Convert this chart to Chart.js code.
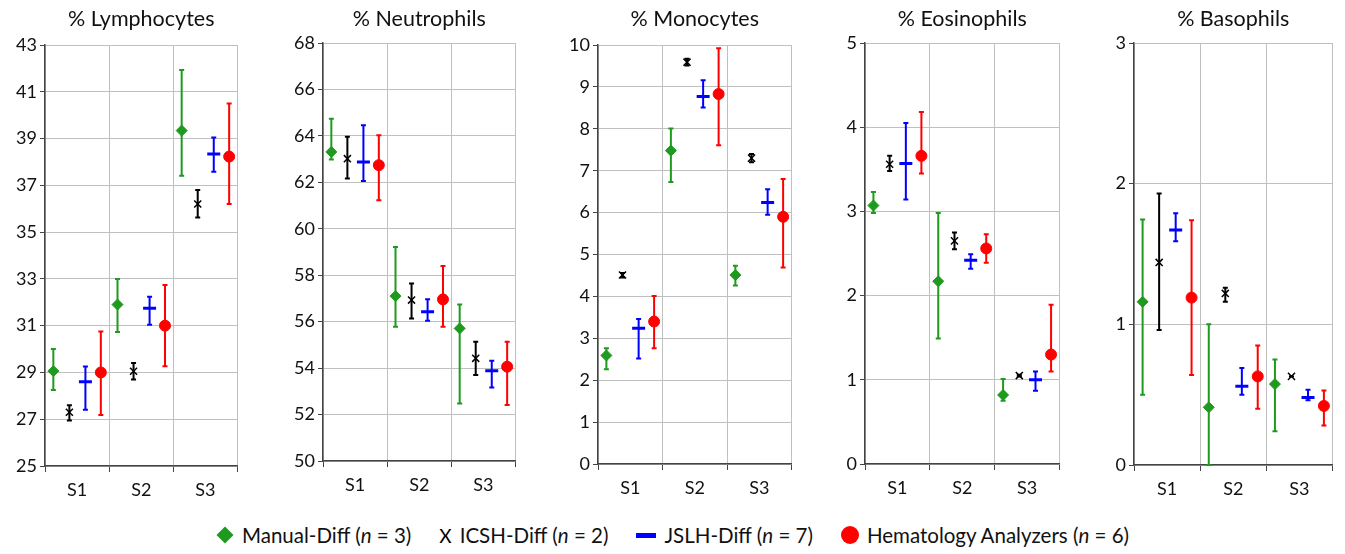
<!DOCTYPE html>
<html>
<head>
<meta charset="utf-8">
<script src="https://cdn.jsdelivr.net/npm/chart.js@4.4.1/dist/chart.umd.min.js"></script>
<style>
  body { margin: 0; background: #fff; width: 1345px; height: 554px; overflow: hidden; position: relative; font-family: Lato, "Open Sans", sans-serif; }
  canvas { position: absolute; top: 0; }
  #legend { position: absolute; top: 523px; left: 0; width: 1345px; display: flex; justify-content: center; align-items: center; font-size: 20.5px; color: #111; }
  .item { display: flex; align-items: center; margin: 0 14px; }
  .mk { display: inline-block; margin-right: 8px; }
  .diamond { width: 12px; height: 12px; background: #1e9a1e; transform: rotate(45deg); margin-left: 3px; margin-right: 11px; }
  .cross { font-size: 19px; color: #000; }
  .dash { width: 20px; height: 5px; background: #0000ff; }
  .dot { width: 18px; height: 18px; border-radius: 50%; background: #ff0000; }
</style>
</head>
<body>
<div id="legend"></div>
<script>
const categories = ['S1', 'S2', 'S3'];
const seriesNames = ['Manual-Diff', 'ICSH-Diff', 'JSLH-Diff', 'Hematology Analyzers'];
const seriesN = [3, 2, 7, 6];
const panelTitles = ['% Lymphocytes', '% Neutrophils', '% Monocytes', '% Eosinophils', '% Basophils'];

// values per series (Manual, ICSH, JSLH, Analyzers), each over S1..S3
const lymphMean = [[29.06, 31.9, 39.34], [27.3, 29.05, 36.2], [28.6, 31.74, 38.34], [29.0, 31.0, 38.23]];
const lymphLow  = [[28.25, 30.73, 37.41], [26.95, 28.7, 35.63], [27.4, 31.04, 37.58], [27.18, 29.26, 36.2]];
const lymphHigh = [[30.0, 33.0, 41.93], [27.6, 29.4, 36.8], [29.25, 32.24, 39.05], [30.75, 32.74, 40.5]];

const neutMean = [[63.31, 57.1, 55.71], [63.02, 56.93, 54.42], [62.88, 56.43, 53.89], [62.74, 56.96, 54.06]];
const neutLow  = [[62.98, 55.78, 52.48], [62.16, 56.14, 53.7], [62.06, 56.04, 53.17], [61.23, 55.78, 52.41]];
const neutHigh = [[64.74, 59.22, 56.74], [63.96, 57.64, 55.13], [64.46, 56.96, 54.32], [64.03, 58.4, 55.13]];

const monoMean = [[2.59, 7.48, 4.51], [4.51, 9.59, 7.3], [3.24, 8.77, 6.24], [3.4, 8.83, 5.9]];
const monoLow  = [[2.26, 6.73, 4.26], [4.45, 9.51, 7.2], [2.52, 8.51, 5.95], [2.76, 7.61, 4.69]];
const monoHigh = [[2.76, 8.01, 4.73], [4.56, 9.67, 7.4], [3.46, 9.16, 6.56], [4.01, 9.92, 6.8]];

const eosMean = [[3.07, 2.17, 0.82], [3.56, 2.65, 1.05], [3.57, 2.42, 1.0], [3.66, 2.56, 1.3]];
const eosLow  = [[2.98, 1.49, 0.75], [3.48, 2.55, 1.04], [3.14, 2.32, 0.87], [3.45, 2.39, 1.1]];
const eosHigh = [[3.23, 2.98, 1.01], [3.66, 2.75, 1.06], [4.05, 2.49, 1.1], [4.18, 2.73, 1.89]];

const basoMean = [[1.16, 0.41, 0.575], [1.44, 1.22, 0.63], [1.67, 0.56, 0.48], [1.19, 0.63, 0.42]];
const basoLow  = [[0.5, 0, 0.24], [0.96, 1.16, 0.63], [1.59, 0.5, 0.46], [0.64, 0.4, 0.28]];
const basoHigh = [[1.745, 1.0, 0.75], [1.93, 1.26, 0.63], [1.79, 0.69, 0.535], [1.74, 0.85, 0.53]];

const yMin = [25, 50, 0, 0, 0];
const yMax = [43, 68, 10, 5, 3];
const yStep = [2, 2, 1, 1, 1];

const panelData = [
  [lymphMean, lymphLow, lymphHigh],
  [neutMean, neutLow, neutHigh],
  [monoMean, monoLow, monoHigh],
  [eosMean, eosLow, eosHigh],
  [basoMean, basoLow, basoHigh],
];

// layout (pixels)
const axisX = [45, 323, 598, 865, 1134];
const rightX = [243, 521, 797, 1065, 1338];
const plotTop = [45, 43, 45, 43, 43];
const plotBottom = [466, 461, 464, 464, 465];
const yAxisW = 40;
const xAxisH = 44;
const titleSize = 21.5;

const colors = ['#1e9a1e', '#000000', '#0000ff', '#ff0000'];
const styles = [
  { pointStyle: 'rectRot', radius: 5.5, borderWidth: 1 },
  { pointStyle: 'crossRot', radius: 5, borderWidth: 1.5 },
  { pointStyle: 'line', radius: 6.5, borderWidth: 3 },
  { pointStyle: 'circle', radius: 5.5, borderWidth: 1 },
];
const offsets = [0.13, 0.38, 0.63, 0.87];

const errorBars = {
  id: 'errorBars',
  beforeDatasetsDraw(chart) {
    const { ctx, scales: { x, y } } = chart;
    ctx.save();
    chart.data.datasets.forEach((ds) => {
      ctx.strokeStyle = ds.borderColor;
      ctx.lineWidth = 2;
      ds.data.forEach((p) => {
        const px = x.getPixelForValue(p.x);
        const y1 = y.getPixelForValue(p.low);
        const y2 = y.getPixelForValue(p.high);
        ctx.beginPath();
        ctx.moveTo(px, y1); ctx.lineTo(px, y2);
        ctx.moveTo(px - 2.5, y1); ctx.lineTo(px + 2.5, y1);
        ctx.moveTo(px - 2.5, y2); ctx.lineTo(px + 2.5, y2);
        ctx.stroke();
      });
    });
    ctx.restore();
  }
};

const isInt = (v) => Math.abs(v - Math.round(v)) < 1e-6;

panelTitles.forEach((title, i) => {
  const canvas = document.createElement('canvas');
  const w = rightX[i] - axisX[i] + yAxisW + 4;
  const h = plotBottom[i] + xAxisH;
  canvas.width = w;
  canvas.height = h;
  canvas.style.left = (axisX[i] - yAxisW) + 'px';
  canvas.style.width = w + 'px';
  canvas.style.height = h + 'px';
  document.body.appendChild(canvas);

  const [mean, low, high] = panelData[i];
  const datasets = seriesNames.map((name, s) => ({
    label: name,
    data: categories.map((c, k) => ({ x: k + offsets[s], y: mean[s][k], low: low[s][k], high: high[s][k] })),
    backgroundColor: colors[s],
    borderColor: colors[s],
    pointStyle: styles[s].pointStyle,
    pointRadius: styles[s].radius,
    pointBorderWidth: styles[s].borderWidth,
    showLine: false,
  }));

  new Chart(canvas, {
    type: 'scatter',
    data: { datasets },
    plugins: [errorBars],
    options: {
      responsive: false,
      animation: false,
      events: [],
      layout: { padding: { left: 0, right: 4, top: 0, bottom: 0 } },
      plugins: {
        legend: { display: false },
        tooltip: { enabled: false },
        title: {
          display: true,
          text: title,
          fullSize: false,
          color: '#111',
          font: { family: 'Lato', size: titleSize, weight: 'normal', lineHeight: 1.2 },
          padding: { top: 6, bottom: plotTop[i] - 6 - titleSize * 1.2 },
        },
      },
      scales: {
        x: {
          type: 'linear',
          min: 0,
          max: 3,
          afterBuildTicks: (scale) => {
            scale.ticks = [0, 0.5, 1, 1.5, 2, 2.5, 3].map((v) => ({ value: v }));
          },
          afterFit: (scale) => { scale.height = xAxisH; },
          ticks: {
            autoSkip: false,
            maxRotation: 0,
            padding: 7,
            color: '#111',
            font: { family: 'Lato', size: 18 },
            callback: (v) => (isInt(v) ? '' : categories[Math.floor(v)]),
          },
          grid: {
            color: (ctx) => (isInt(ctx.tick.value) ? '#c0c0c0' : 'rgba(0,0,0,0)'),
            tickColor: (ctx) => (isInt(ctx.tick.value) ? '#444' : 'rgba(0,0,0,0)'),
            tickLength: 6,
            lineWidth: 1,
          },
          border: { color: '#444', width: 1.5 },
        },
        y: {
          min: yMin[i],
          max: yMax[i],
          ticks: {
            stepSize: yStep[i],
            padding: 3,
            color: '#111',
            font: { family: 'Lato', size: 18 },
          },
          afterFit: (scale) => { scale.width = yAxisW; },
          grid: { color: '#c0c0c0', tickColor: '#444', tickLength: 5, lineWidth: 1 },
          border: { color: '#444', width: 1.5 },
        },
      },
    },
  });
});

// legend
const markerClass = ['diamond', 'cross', 'dash', 'dot'];
const legend = document.getElementById('legend');
seriesNames.forEach((name, s) => {
  const item = document.createElement('div');
  item.className = 'item';
  const mk = document.createElement('span');
  mk.className = 'mk ' + markerClass[s];
  if (markerClass[s] === 'cross') mk.textContent = 'X';
  item.appendChild(mk);
  const txt = document.createElement('span');
  txt.innerHTML = name + ' (<i>n</i> = ' + seriesN[s] + ')';
  item.appendChild(txt);
  legend.appendChild(item);
});
</script>
</body>
</html>
